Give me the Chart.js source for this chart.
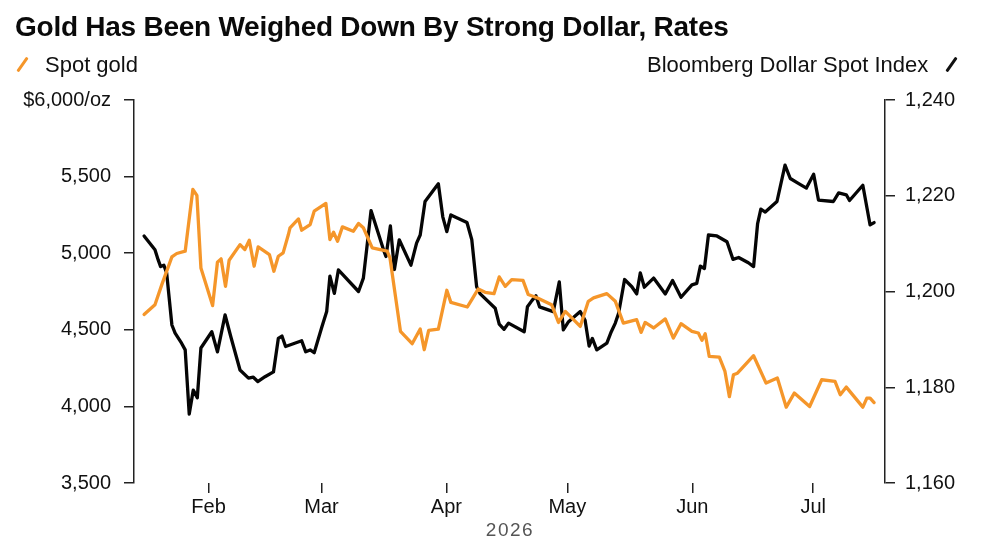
<!DOCTYPE html>
<html>
<head>
<meta charset="utf-8">
<script src="https://cdn.jsdelivr.net/npm/chart.js@4.4.1/dist/chart.umd.min.js"></script>
<style>
  html, body { margin: 0; padding: 0; background: #fff; }
  #wrap { position: relative; width: 1000px; height: 545px; overflow: hidden; font-family: 'Liberation Sans', Arial, sans-serif; }
  #title { position: absolute; left: 15px; top: 11px; font-size: 28px; font-weight: bold; color: #0a0a0a; white-space: nowrap; letter-spacing: -0.25px; }
  .leg { position: absolute; top: 52px; font-size: 22px; color: #111; white-space: nowrap; }
  .slash { position: absolute; width: 3px; height: 17px; border-radius: 1px; transform: rotate(35deg); }
  #year { position: absolute; left: 0; width: 1020px; top: 519px; text-align: center; font-size: 19px; color: #555; letter-spacing: 1.5px; }
  #cwrap { position: absolute; left: 0; top: 0; width: 1000px; height: 545px; }
</style>
</head>
<body>
<div id="wrap">
  <div id="cwrap"><canvas id="c"></canvas></div>
  <div id="title">Gold Has Been Weighed Down By Strong Dollar, Rates</div>
  <div class="slash" style="left:21px; top:56px; background:#f5962a;"></div>
  <div class="leg" style="left:45px;">Spot gold</div>
  <div class="leg" style="left:647px;">Bloomberg Dollar Spot Index</div>
  <div class="slash" style="left:950px; top:56px; background:#111;"></div>
  <div id="year">2026</div>
</div>
<script>
// Day numbers: days since 1 Jan 2026 (Jan 1 = 0)
const monthTickDays = [31, 59, 90, 120, 151, 181];
const monthLabels = ['Feb', 'Mar', 'Apr', 'May', 'Jun', 'Jul'];

const goldDays = [15.0,17.7,19.4,21.9,23.1,25.2,27.1,28.1,29.1,32.0,33.2,34.1,35.2,36.1,38.8,40.0,41.1,42.3,43.3,46.1,47.2,48.3,49.5,50.8,51.2,53.3,54.1,56.2,57.2,60.1,61.1,62.0,63.0,64.2,66.9,68.2,69.4,71.6,75.3,76.0,78.6,81.5,83.5,84.5,85.6,88.0,90.1,91.1,95.2,96.3,97.9,99.6,101.8,103.1,104.6,106.2,109.0,110.3,112.6,116.1,117.8,119.5,123.2,125.2,126.5,129.8,131.9,133.9,137.2,138.3,139.3,141.4,144.3,146.3,148.2,150.9,152.5,153.4,154.2,155.2,157.7,159.1,160.2,161.2,162.2,166.2,169.3,172.1,174.3,176.3,180.1,183.1,186.4,187.7,189.2,193.3,194.3,195.1,196.1];
const goldValues = [4600,4664,4795,4976,4998,5013,5416,5377,4904,4658,4941,4963,4784,4954,5056,5024,5085,4915,5041,4991,4882,4980,5002,5122,5166,5224,5150,5187,5274,5325,5089,5137,5078,5172,5143,5194,5166,5035,5013,4969,4490,4409,4505,4370,4496,4505,4758,4679,4649,4697,4767,4745,4736,4845,4784,4828,4823,4730,4708,4664,4548,4620,4522,4686,4708,4736,4686,4544,4566,4483,4548,4512,4571,4446,4540,4490,4479,4431,4474,4326,4322,4228,4064,4206,4217,4331,4152,4185,3995,4087,3999,4174,4163,4076,4126,3995,4054,4054,4025];

const dxyDays = [15.0,17.7,18.5,19.1,19.9,20.6,21.9,22.7,24.3,25.2,26.2,27.2,28.2,29.1,31.8,33.2,35.1,36.5,38.8,40.9,42.1,43.2,45.0,47.1,48.3,49.2,50.1,54.1,55.1,56.2,57.2,59.1,60.3,61.1,62.2,63.2,68.2,69.4,70.2,71.3,74.4,75.0,76.1,77.1,78.3,81.2,82.6,83.5,84.7,87.2,88.0,89.1,90.1,91.1,95.1,96.3,97.5,98.4,102.1,103.1,104.3,105.4,109.3,110.1,111.2,112.2,113.1,116.5,118.0,119.0,120.3,123.2,124.4,125.4,126.2,127.3,129.8,130.9,131.9,132.7,134.2,136.0,137.2,138.1,139.1,141.4,144.3,146.1,148.2,150.9,152.1,153.0,154.0,155.0,157.1,159.6,161.1,162.5,164.9,166.2,167.2,168.0,169.1,172.0,174.0,175.3,177.3,179.3,181.1,182.3,186.0,187.3,189.2,190.0,193.3,195.1,196.1];
const dxyValues = [1211.6,1208.7,1206.6,1205.2,1205.5,1203.9,1193.0,1191.3,1189.2,1187.8,1174.4,1179.4,1177.8,1188.2,1191.6,1187.4,1195.1,1190.6,1183.6,1181.9,1182.1,1181.2,1182.2,1183.2,1190.2,1190.7,1188.5,1189.7,1187.4,1187.8,1187.2,1192.6,1195.8,1203.2,1199.6,1204.5,1200.0,1202.8,1208.7,1216.9,1208.7,1207.3,1213.7,1204.6,1210.8,1205.5,1210.1,1211.8,1218.8,1221.6,1222.5,1215.6,1212.5,1216.0,1214.4,1210.8,1201.0,1199.5,1196.5,1193.2,1192.1,1193.4,1191.6,1196.8,1198.1,1199.1,1196.8,1195.8,1202.0,1192.0,1193.7,1195.8,1194.0,1188.6,1190.2,1187.8,1189.2,1191.6,1193.4,1195.4,1202.5,1201.0,1199.5,1203.9,1200.9,1202.8,1199.5,1202.3,1198.8,1201.4,1201.7,1205.3,1204.8,1211.8,1211.6,1210.4,1206.7,1207.1,1206.0,1205.2,1214.2,1217.2,1216.6,1218.8,1226.4,1223.6,1222.6,1221.6,1224.5,1219.1,1218.8,1220.6,1220.2,1219.0,1222.2,1213.9,1214.4];

const goldTicks = [3500, 4000, 4500, 5000, 5500, 6000];
const dxyTicks = [1160, 1180, 1200, 1220, 1240];

const goldPts = goldDays.map((d, i) => ({ x: d, y: goldValues[i] }));
const dxyPts = dxyDays.map((d, i) => ({ x: d, y: dxyValues[i] }));

const fmt = v => v.toLocaleString('en-US');
Chart.defaults.font.family = "'Liberation Sans', Arial, sans-serif";
Chart.defaults.color = '#111';

new Chart(document.getElementById('c'), {
  type: 'line',
  data: {
    datasets: [
      { label: 'Bloomberg Dollar Spot Index', data: dxyPts, yAxisID: 'y1', borderColor: '#050505', borderWidth: 3.3, pointRadius: 0, tension: 0, borderJoinStyle: 'round', borderCapStyle: 'round', order: 2 },
      { label: 'Spot gold', data: goldPts, yAxisID: 'y', borderColor: '#f5962a', borderWidth: 3.3, pointRadius: 0, tension: 0, borderJoinStyle: 'round', borderCapStyle: 'round', order: 1 }
    ]
  },
  options: {
    responsive: true,
    maintainAspectRatio: false,
    animation: false,
    layout: { padding: { top: 100, bottom: 0, left: 0, right: 0 } },
    plugins: { legend: { display: false }, tooltip: { enabled: false }, title: { display: false } },
    scales: {
      x: {
        type: 'linear', min: 12.5, max: 198.8,
        afterBuildTicks: s => { s.ticks = monthTickDays.map(v => ({ value: v })); },
        afterFit: s => { s.height = 62; },
        ticks: { callback: (v) => { const i = monthTickDays.indexOf(v); return i >= 0 ? monthLabels[i] : ''; }, font: { size: 20 }, color: '#111', padding: 2, maxRotation: 0, autoSkip: false },
        grid: { drawOnChartArea: false, drawTicks: true, tickLength: 10, color: '#222', lineWidth: 1.5 },
        border: { display: false }
      },
      y: {
        position: 'left', min: 3500, max: 6000,
        afterBuildTicks: s => { s.ticks = goldTicks.map(v => ({ value: v })); },
        afterFit: s => { s.width = 134; },
        ticks: { callback: v => v === 6000 ? '$6,000/oz' : fmt(v), font: { size: 20 }, color: '#111', padding: 13 },
        grid: { drawOnChartArea: false, drawTicks: true, tickLength: 10, color: '#222', lineWidth: 1.5 },
        border: { display: true, color: '#222', width: 1.5 }
      },
      y1: {
        position: 'right', min: 1160, max: 1240,
        afterBuildTicks: s => { s.ticks = dxyTicks.map(v => ({ value: v })); },
        afterFit: s => { s.width = 115; },
        ticks: { callback: v => fmt(v), font: { size: 20 }, color: '#111', padding: 10 },
        grid: { drawOnChartArea: false, drawTicks: true, tickLength: 10, color: '#222', lineWidth: 1.5 },
        border: { display: true, color: '#222', width: 1.5 }
      }
    }
  }
});
</script>
</body>
</html>
